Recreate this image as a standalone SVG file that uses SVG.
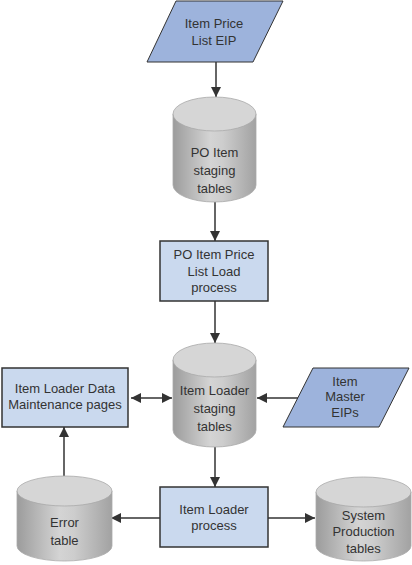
<svg xmlns="http://www.w3.org/2000/svg" width="412" height="565" viewBox="0 0 412 565">
<defs>
<linearGradient id="cyl" x1="0" y1="0" x2="1" y2="0">
<stop offset="0" stop-color="#9c9c9c"/>
<stop offset="0.45" stop-color="#d4d4d4"/>
<stop offset="0.6" stop-color="#cdcdcd"/>
<stop offset="1" stop-color="#a2a2a2"/>
</linearGradient>
<marker id="ah" viewBox="0 0 10 10" refX="10" refY="5" markerWidth="10" markerHeight="10" markerUnits="userSpaceOnUse" orient="auto-start-reverse">
<path d="M0,0 L10,5 L0,10 Z" fill="#333"/>
</marker>
</defs>
<style>
text{font-family:"Liberation Sans",Arial,sans-serif;font-size:13px;fill:#333;text-anchor:middle}
.box{fill:#cad9ee;stroke:#333;stroke-width:1.5}
.para{fill:#9db3dc;stroke:#333;stroke-width:1}
.body{fill:url(#cyl);stroke:#aaa;stroke-width:0.8}
.top{fill:#d6d6d6;stroke:#aaa;stroke-width:0.8}
.c{fill:none;stroke:#333;stroke-width:1.5;marker-end:url(#ah)}
.d{marker-start:url(#ah)}
</style>
<g id="connectors">
<path class="c" d="M216,62 L216,97"/>
<path class="c" d="M215,202 L215,241"/>
<path class="c" d="M215,301 L215,343"/>
<path class="c d" d="M131,398 L172,398"/>
<path class="c" d="M298,398 L257,398"/>
<path class="c" d="M215,447 L215,487"/>
<path class="c" d="M160,518 L111,518"/>
<path class="c" d="M268,518 L315,518"/>
<path class="c" d="M64,476 L64,427"/>
</g>
<g id="item-price-list-eip">
<polygon class="para" points="176,1 283,1 253,62 147,62"/>
<text x="214" y="28">Item Price</text>
<text x="214" y="45">List EIP</text>
</g>
<g id="po-item-staging">
<path class="body" d="M173,114 L173,185 A41.5,17 0 0 0 256,185 L256,114 Z"/>
<ellipse class="top" cx="214.5" cy="114" rx="41.5" ry="17"/>
<text x="214.5" y="157">PO Item</text>
<text x="214.5" y="175">staging</text>
<text x="214.5" y="193">tables</text>
</g>
<g id="po-load-process">
<rect class="box" x="160" y="241" width="108" height="60"/>
<text x="214" y="259">PO Item Price</text>
<text x="214" y="276">List Load</text>
<text x="214" y="292">process</text>
</g>
<g id="item-loader-staging">
<path class="body" d="M173,360 L173,430 A41.5,17 0 0 0 256,430 L256,360 Z"/>
<ellipse class="top" cx="214.5" cy="360" rx="41.5" ry="17"/>
<text x="214.5" y="395">Item Loader</text>
<text x="214.5" y="413">staging</text>
<text x="214.5" y="431">tables</text>
</g>
<g id="data-maintenance-pages">
<rect class="box" x="2" y="368" width="126" height="59"/>
<text x="65" y="393">Item Loader Data</text>
<text x="65" y="409">Maintenance pages</text>
</g>
<g id="item-master-eips">
<polygon class="para" points="313,368 409,368 379,427 283,427"/>
<text x="345" y="386">Item</text>
<text x="345" y="401">Master</text>
<text x="345" y="417">EIPs</text>
</g>
<g id="item-loader-process">
<rect class="box" x="160" y="487" width="108" height="60"/>
<text x="214" y="514">Item Loader</text>
<text x="214" y="530">process</text>
</g>
<g id="error-table">
<path class="body" d="M17,491 L17,546 A47.5,15 0 0 0 112,546 L112,491 Z"/>
<ellipse class="top" cx="64.5" cy="491" rx="47.5" ry="15"/>
<text x="64.5" y="527">Error</text>
<text x="64.5" y="545">table</text>
</g>
<g id="system-production-tables">
<path class="body" d="M316,492 L316,546 A47.5,15 0 0 0 411,546 L411,492 Z"/>
<ellipse class="top" cx="363.5" cy="492" rx="47.5" ry="15"/>
<text x="363.5" y="520">System</text>
<text x="363.5" y="536">Production</text>
<text x="363.5" y="553">tables</text>
</g>
</svg>
